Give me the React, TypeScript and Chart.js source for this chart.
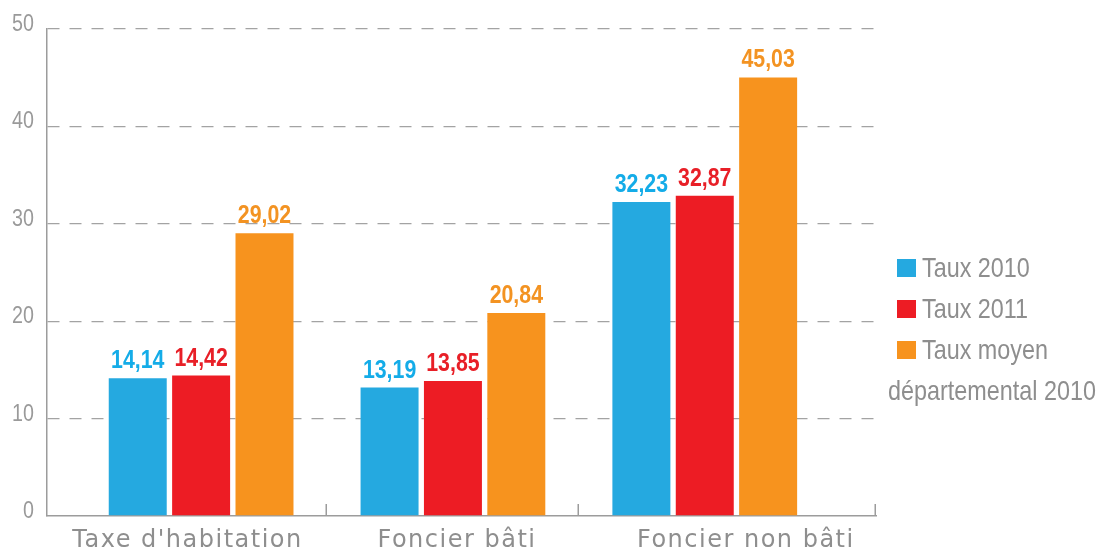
import React, { useEffect, useRef } from "react";
import { Chart, registerables } from "chart.js";

Chart.register(...registerables);

const categories = ["Taxe d'habitation", "Foncier bâti", "Foncier non bâti"];
const seriesNames = ["Taux 2010", "Taux 2011", "Taux moyen départemental 2010"];
const taux2010 = [14.14, 13.19, 32.23];
const taux2011 = [14.42, 13.85, 32.87];
const tauxMoyen2010 = [29.02, 20.84, 45.03];
const yTicks = [0, 10, 20, 30, 40, 50];

const barColors = ["#25A9E0", "#ED1C24", "#F7931E"];
const labelColors = ["#14ACE8", "#E81F27", "#F39322"];

const SANS = '"Liberation Sans", Arial, sans-serif';
const WIDE = '"DejaVu Sans", "Open Sans", sans-serif';
const NARROW_SCALE = 0.82;
const GRAY_TEXT = "#8e8e8e";
const AXIS_GRAY = "#9c9c9c";

// where the category captions sit along the x axis (axis units)
const captionAnchors = [-0.054, 1.016, 2.163];

function drawNarrow(ctx: any, text: string, x: number, y: number, align: string) {
  ctx.save();
  ctx.translate(x, y);
  ctx.scale(NARROW_SCALE, 1);
  ctx.textAlign = align;
  ctx.fillText(text, 0, 0);
  ctx.restore();
}

const valueLabelPlugin = {
  id: "valueLabels",
  afterDatasetsDraw(chart: any) {
    const ctx = chart.ctx;
    ctx.save();
    ctx.font = `bold 26px ${SANS}`;
    ctx.textBaseline = "alphabetic";
    chart.data.datasets.forEach((ds: any, di: number) => {
      const meta = chart.getDatasetMeta(di);
      ctx.fillStyle = labelColors[di];
      meta.data.forEach((bar: any, i: number) => {
        const v = ds.data[i].y as number;
        drawNarrow(ctx, v.toFixed(2).replace(".", ","), bar.x, bar.y - 10, "center");
      });
    });
    ctx.restore();
  },
};

const axisDecorPlugin = {
  id: "axisDecor",
  afterDatasetsDraw(chart: any) {
    const ctx = chart.ctx;
    const xs = chart.scales.x;
    const ys = chart.scales.y;
    const { bottom, left } = chart.chartArea;
    const marks = [0.5, 1.5, xs.max];
    ctx.save();
    ctx.strokeStyle = AXIS_GRAY;
    ctx.lineWidth = 1.5;
    marks.forEach((v) => {
      const px = Math.round(xs.getPixelForValue(v)) - 0.75;
      ctx.beginPath();
      ctx.moveTo(px, bottom);
      ctx.lineTo(px, bottom - 12);
      ctx.stroke();
    });
    ctx.fillStyle = "#9a9a9a";
    ctx.font = `24px ${SANS}`;
    ctx.textBaseline = "alphabetic";
    yTicks.forEach((t) => {
      const py = ys.getPixelForValue(t);
      drawNarrow(ctx, String(t), left - 13, py + 2, "right");
    });
    ctx.fillStyle = GRAY_TEXT;
    ctx.font = `24px ${WIDE}`;
    try {
      (ctx as any).letterSpacing = "1.5px";
    } catch (e) {}
    ctx.textAlign = "center";
    categories.forEach((c, i) => {
      const px = xs.getPixelForValue(captionAnchors[i]);
      ctx.fillText(c, px, bottom + 31);
    });
    ctx.restore();
  },
};

const legendPlugin = {
  id: "customLegend",
  afterDraw(chart: any) {
    const ctx = chart.ctx;
    const sqX = 897;
    const textX = 922;
    const wrapX = 888;
    const startY = 268;
    const lineH = 41;
    ctx.save();
    ctx.font = `28.5px ${SANS}`;
    ctx.textBaseline = "middle";
    let row = 0;
    chart.data.datasets.forEach((ds: any, di: number) => {
      const y = startY + row * lineH;
      ctx.fillStyle = barColors[di];
      ctx.fillRect(sqX, y - 9, 19, 18);
      const words = String(ds.label).split(" ");
      const lines: string[] = [];
      let cur = "";
      words.forEach((w) => {
        const test = cur ? cur + " " + w : w;
        const limit = lines.length === 0 ? chart.width - textX - 2 : chart.width - wrapX - 2;
        if (ctx.measureText(test).width * NARROW_SCALE > limit && cur) {
          lines.push(cur);
          cur = w;
        } else {
          cur = test;
        }
      });
      if (cur) lines.push(cur);
      ctx.fillStyle = GRAY_TEXT;
      lines.forEach((ln, li) => {
        drawNarrow(ctx, ln, li === 0 ? textX : wrapX, startY + row * lineH + 1, "left");
        row++;
      });
    });
    ctx.restore();
  },
};

export default function App() {
  const ref = useRef<HTMLCanvasElement | null>(null);

  useEffect(() => {
    if (!ref.current) return;
    const series = [taux2010, taux2011, tauxMoyen2010];
    const chart = new Chart(ref.current, {
      type: "bar",
      data: {
        datasets: series.map((vals, si) => ({
          label: seriesNames[si],
          data: vals.map((v, i) => ({ x: i, y: v })),
          backgroundColor: barColors[si],
          borderWidth: 0,
          categoryPercentage: 0.755,
          barPercentage: 0.915,
        })),
      },
      options: {
        responsive: false,
        animation: false,
        maintainAspectRatio: false,
        layout: { padding: { top: 29, right: 232, left: 0, bottom: 0 } },
        plugins: {
          legend: { display: false },
          tooltip: { enabled: false },
          title: { display: false },
        },
        scales: {
          x: {
            type: "linear",
            offset: false,
            min: -0.612,
            max: 2.68,
            afterBuildTicks: (s: any) => {
              s.ticks = categories.map((_c, i) => ({ value: i }));
            },
            grid: { display: false, offset: false },
            border: { display: true, color: AXIS_GRAY, width: 1.5 },
            ticks: { display: false },
            afterFit: (s: any) => {
              s.height = 38;
            },
          },
          y: {
            type: "linear",
            min: 0,
            max: 50,
            afterBuildTicks: (s: any) => {
              s.ticks = yTicks.map((v) => ({ value: v }));
            },
            grid: {
              drawTicks: false,
              lineWidth: 1.3,
              color: (c: any) => (c.tick && c.tick.value === 0 ? "rgba(0,0,0,0)" : "#a3a3a3"),
            },
            border: { display: true, color: AXIS_GRAY, width: 1.5, dash: [12, 10] },
            ticks: { display: false },
            afterFit: (s: any) => {
              s.width = 47;
            },
          },
        },
      },
      plugins: [valueLabelPlugin, axisDecorPlugin, legendPlugin],
    });
    return () => chart.destroy();
  }, []);

  return (
    <div style={{ position: "fixed", left: 0, top: 0, width: 1108, height: 554, background: "#fff" }}>
      <canvas ref={ref} width={1108} height={554} style={{ width: 1108, height: 554 }} />
    </div>
  );
}
